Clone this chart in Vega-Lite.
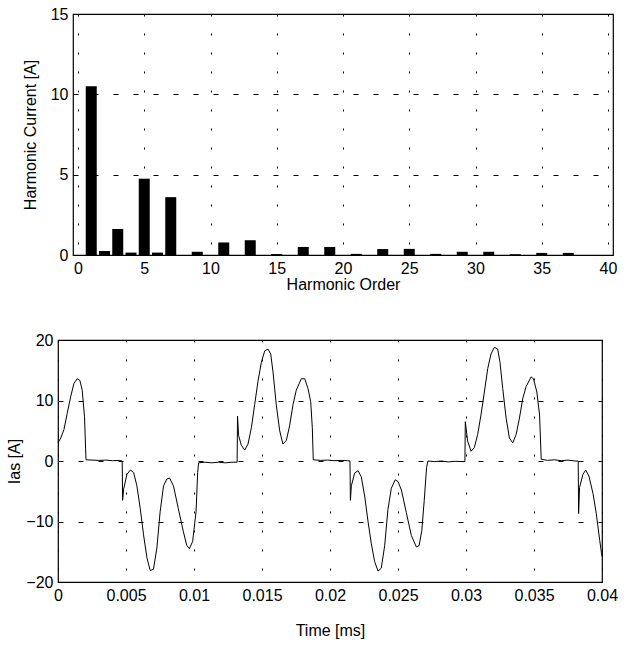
{
  "$schema": "https://vega.github.io/schema/vega-lite/v6.json",
  "padding": {"left": 6, "top": 5, "right": 4, "bottom": 4},
  "background": "white",
  "align": "none",
  "spacing": 38,
  "config": {
    "font": "Liberation Sans",
    "view": {"stroke": "black", "strokeWidth": 1.2},
    "axis": {
      "labelFont": "Liberation Sans",
      "titleFont": "Liberation Sans",
      "labelFontSize": 16,
      "titleFontSize": 16,
      "titleFontWeight": "normal",
      "labelColor": "black",
      "titleColor": "black",
      "domain": false,
      "ticks": false,
      "labelPadding": 5,
      "gridColor": "black",
      "gridOpacity": 1,
      "gridWidth": 1,
      "labelFlush": false,
      "labelOverlap": false
    }
  },
  "vconcat": [
    {
      "spacing": -41,
      "align": "none",
      "hconcat": [
        {
          "width": 1,
          "height": 1,
          "view": {"stroke": null},
          "data": {"values": [{"k": 0}]},
          "mark": {"type": "point", "opacity": 0},
          "encoding": {}
        },
        {
          "width": 540,
          "height": 241,
          "data": {
            "values": [
              {"h": 1, "a": 10.5}, {"h": 2, "a": 0.25}, {"h": 3, "a": 1.62},
              {"h": 4, "a": 0.15}, {"h": 5, "a": 4.75}, {"h": 6, "a": 0.15},
              {"h": 7, "a": 3.6}, {"h": 9, "a": 0.2}, {"h": 11, "a": 0.78},
              {"h": 13, "a": 0.92}, {"h": 15, "a": 0.06}, {"h": 17, "a": 0.5},
              {"h": 19, "a": 0.5}, {"h": 21, "a": 0.07}, {"h": 23, "a": 0.37},
              {"h": 25, "a": 0.38}, {"h": 27, "a": 0.07}, {"h": 29, "a": 0.2},
              {"h": 31, "a": 0.2}, {"h": 33, "a": 0.05}, {"h": 35, "a": 0.13},
              {"h": 37, "a": 0.13}
            ]
          },
          "mark": {"type": "bar", "color": "black", "size": 11},
          "encoding": {
            "x": {
              "field": "h", "type": "quantitative",
              "scale": {"domain": [0, 40], "nice": false},
              "axis": {"values": [0, 5, 10, 15, 20, 25, 30, 35, 40], "title": "Harmonic Order",
                       "gridDash": [2, 17], "titlePadding": 0}
            },
            "y": {
              "field": "a", "type": "quantitative",
              "scale": {"domain": [0, 15], "nice": false},
              "axis": {"values": [0, 5, 10, 15], "title": "Harmonic Current [A]",
                       "titlePadding": 12, "gridDash": [5, 15]}
            }
          }
        }
      ]
    },
    {
      "width": 544,
      "height": 242,
      "data": {
        "values": [
          {"t": 0.0, "i": 3.0}, {"t": 0.0002, "i": 3.8}, {"t": 0.00044, "i": 5.2},
          {"t": 0.00068, "i": 7.9}, {"t": 0.00093, "i": 10.6}, {"t": 0.00117, "i": 12.8},
          {"t": 0.00141, "i": 13.6}, {"t": 0.00161, "i": 13.3}, {"t": 0.00178, "i": 11.7},
          {"t": 0.00195, "i": 7.3}, {"t": 0.00203, "i": 2.0}, {"t": 0.00206, "i": 0.2},
          {"t": 0.0025, "i": 0.15}, {"t": 0.003, "i": 0.1}, {"t": 0.0035, "i": 0.15},
          {"t": 0.004, "i": 0.05}, {"t": 0.0045, "i": 0.1}, {"t": 0.00472, "i": 0.0},
          {"t": 0.00475, "i": -6.5}, {"t": 0.00483, "i": -4.6}, {"t": 0.00507, "i": -2.2},
          {"t": 0.00532, "i": -1.5}, {"t": 0.00556, "i": -1.9}, {"t": 0.0058, "i": -4.1},
          {"t": 0.00605, "i": -7.9}, {"t": 0.00629, "i": -12.2}, {"t": 0.00654, "i": -16.0},
          {"t": 0.00678, "i": -18.1}, {"t": 0.00702, "i": -17.9}, {"t": 0.00727, "i": -14.4},
          {"t": 0.00751, "i": -8.4}, {"t": 0.00776, "i": -4.1}, {"t": 0.008, "i": -3.0},
          {"t": 0.0082, "i": -2.8}, {"t": 0.00849, "i": -4.1}, {"t": 0.00885, "i": -7.9},
          {"t": 0.00922, "i": -11.7}, {"t": 0.00946, "i": -13.9}, {"t": 0.00966, "i": -14.5},
          {"t": 0.0099, "i": -13.3}, {"t": 0.01015, "i": -8.4}, {"t": 0.01027, "i": -1.9},
          {"t": 0.01034, "i": -0.3}, {"t": 0.0108, "i": -0.2}, {"t": 0.0113, "i": -0.3},
          {"t": 0.0118, "i": -0.2}, {"t": 0.0123, "i": -0.3}, {"t": 0.0128, "i": -0.2},
          {"t": 0.01317, "i": -0.2}, {"t": 0.0132, "i": 7.4}, {"t": 0.01328, "i": 4.2},
          {"t": 0.01348, "i": 2.6}, {"t": 0.01373, "i": 1.8}, {"t": 0.01397, "i": 2.8},
          {"t": 0.01422, "i": 5.5}, {"t": 0.01446, "i": 9.3}, {"t": 0.0147, "i": 13.1},
          {"t": 0.01495, "i": 16.3}, {"t": 0.0152, "i": 18.2}, {"t": 0.01544, "i": 18.5},
          {"t": 0.01564, "i": 17.7}, {"t": 0.01581, "i": 14.7}, {"t": 0.01605, "i": 9.3},
          {"t": 0.0163, "i": 5.0}, {"t": 0.01654, "i": 2.8}, {"t": 0.01679, "i": 3.4},
          {"t": 0.01703, "i": 5.8}, {"t": 0.01728, "i": 9.3}, {"t": 0.01752, "i": 11.7},
          {"t": 0.01789, "i": 13.6}, {"t": 0.01814, "i": 13.6}, {"t": 0.01838, "i": 12.0},
          {"t": 0.01858, "i": 9.8}, {"t": 0.0187, "i": 5.5}, {"t": 0.01877, "i": 0.2},
          {"t": 0.0193, "i": 0.1}, {"t": 0.0198, "i": 0.15}, {"t": 0.0203, "i": 0.05},
          {"t": 0.0208, "i": 0.1}, {"t": 0.0213, "i": 0.05}, {"t": 0.02147, "i": 0.0},
          {"t": 0.0215, "i": -6.5}, {"t": 0.02157, "i": -4.1}, {"t": 0.02181, "i": -2.0},
          {"t": 0.02206, "i": -1.6}, {"t": 0.0223, "i": -2.6}, {"t": 0.02255, "i": -5.8},
          {"t": 0.02279, "i": -9.9}, {"t": 0.02304, "i": -13.7}, {"t": 0.02328, "i": -16.6},
          {"t": 0.02353, "i": -18.2}, {"t": 0.02377, "i": -17.7}, {"t": 0.02402, "i": -14.0},
          {"t": 0.02426, "i": -8.0}, {"t": 0.02451, "i": -4.5}, {"t": 0.0248, "i": -3.1},
          {"t": 0.025, "i": -3.4}, {"t": 0.02525, "i": -4.8}, {"t": 0.02561, "i": -8.5},
          {"t": 0.02598, "i": -12.3}, {"t": 0.02635, "i": -14.2}, {"t": 0.02655, "i": -14.0},
          {"t": 0.02675, "i": -11.5}, {"t": 0.02693, "i": -6.5}, {"t": 0.0271, "i": -1.1},
          {"t": 0.0272, "i": 0.0}, {"t": 0.0277, "i": -0.1}, {"t": 0.0282, "i": 0.0},
          {"t": 0.0287, "i": -0.15}, {"t": 0.0292, "i": -0.05}, {"t": 0.0297, "i": -0.1},
          {"t": 0.02992, "i": -0.1}, {"t": 0.02995, "i": 6.5}, {"t": 0.03012, "i": 3.3},
          {"t": 0.03037, "i": 1.6}, {"t": 0.03061, "i": 2.2}, {"t": 0.03086, "i": 4.4},
          {"t": 0.0311, "i": 7.6}, {"t": 0.03135, "i": 11.4}, {"t": 0.0316, "i": 15.3},
          {"t": 0.03184, "i": 17.7}, {"t": 0.03209, "i": 18.8}, {"t": 0.03233, "i": 18.5},
          {"t": 0.0325, "i": 16.3}, {"t": 0.0327, "i": 12.0}, {"t": 0.03295, "i": 7.1},
          {"t": 0.03319, "i": 3.8}, {"t": 0.03344, "i": 3.0}, {"t": 0.03369, "i": 4.4},
          {"t": 0.03393, "i": 7.1}, {"t": 0.03418, "i": 10.4}, {"t": 0.03442, "i": 12.3},
          {"t": 0.03479, "i": 13.9}, {"t": 0.03496, "i": 13.6}, {"t": 0.03521, "i": 11.4},
          {"t": 0.03541, "i": 7.6}, {"t": 0.03553, "i": 0.3}, {"t": 0.036, "i": 0.1},
          {"t": 0.0365, "i": 0.2}, {"t": 0.037, "i": 0.05}, {"t": 0.0375, "i": 0.15},
          {"t": 0.038, "i": 0.0}, {"t": 0.03825, "i": 0.0}, {"t": 0.03828, "i": -8.7},
          {"t": 0.03835, "i": -4.4}, {"t": 0.0386, "i": -2.2}, {"t": 0.0388, "i": -1.5},
          {"t": 0.03904, "i": -2.5}, {"t": 0.03934, "i": -5.4}, {"t": 0.03958, "i": -8.7},
          {"t": 0.03983, "i": -13.1}, {"t": 0.04, "i": -15.8}
        ]
      },
      "mark": {"type": "line", "color": "black", "strokeWidth": 1},
      "encoding": {
        "x": {
          "field": "t", "type": "quantitative",
          "scale": {"domain": [0, 0.04], "nice": false},
          "axis": {"values": [0, 0.005, 0.01, 0.015, 0.02, 0.025, 0.03, 0.035, 0.04],
                   "format": "~g", "title": "Time [ms]", "gridDash": [2, 17], "titlePadding": 19}
        },
        "y": {
          "field": "i", "type": "quantitative",
          "scale": {"domain": [-20, 20], "nice": false},
          "axis": {"values": [-20, -10, 0, 10, 20], "title": "Ias [A]",
                   "gridDash": [5, 15], "titlePadding": 3}
        }
      }
    }
  ]
}
